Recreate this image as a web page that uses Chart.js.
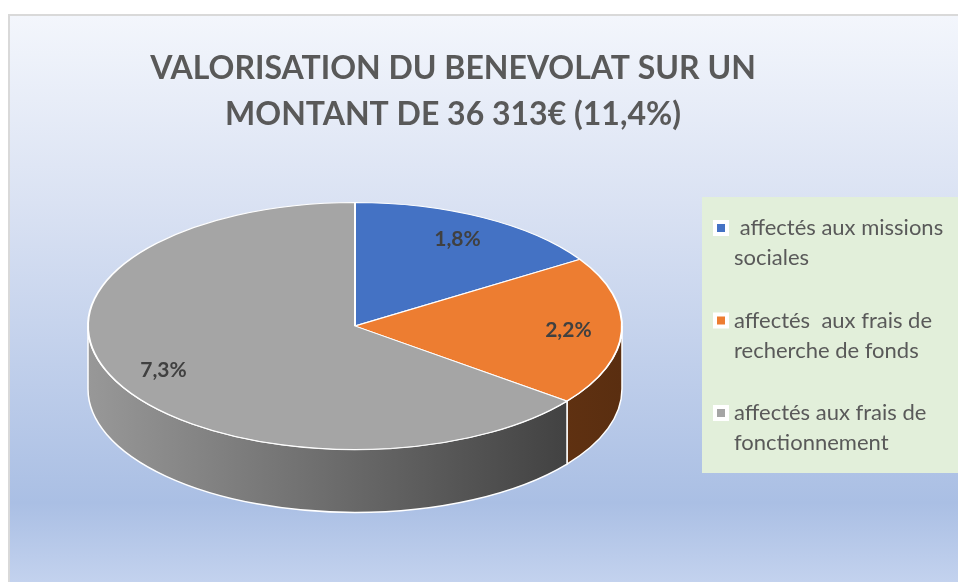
<!DOCTYPE html>
<html lang="fr">
<head>
<meta charset="utf-8">
<title>Valorisation du bénévolat</title>
<script src="https://cdn.jsdelivr.net/npm/chart.js@4.4.1/dist/chart.umd.min.js"></script>
<style>
  html, body { margin: 0; padding: 0; background: #fff; }
  #wrap { width: 958px; height: 582px; }
</style>
</head>
<body>
<div id="wrap"><canvas id="myChart"></canvas></div>
<script>
// values
var titleLines = ['VALORISATION DU BENEVOLAT SUR UN', 'MONTANT DE 36 313€ (11,4%)'];
var categories = [
  [' affectés aux missions', 'sociales'],
  ['affectés  aux frais de', 'recherche de fonds'],
  ['affectés aux frais de', 'fonctionnement']
];
var values = [1.8, 2.2, 7.3];
var sliceColors = ['#4472C4', '#ED7D31', '#A5A5A5'];
// side walls: left / right end of the shading
var sideColors = [['#3a62a8', '#22407a'], ['#8c4a1c', '#5a2e10'], ['#989898', '#383838']];

function pct(v) { return v.toFixed(1).replace('.', ',') + '%'; }

// background panel with its gradient
var panel = {
  id: 'panel',
  beforeDraw: function(chart) {
    var ctx = chart.ctx, w = chart.width, h = chart.height;
    ctx.save();
    ctx.fillStyle = '#fff';
    ctx.fillRect(0, 0, w, h);
    ctx.fillStyle = '#d9d9d9';
    ctx.fillRect(8, 14, w - 8, h - 14);
    var g = ctx.createLinearGradient(0, 16, 0, h);
    g.addColorStop(0, '#f3f6fc');
    g.addColorStop(0.33, '#dae2f3');
    g.addColorStop(0.86, '#aabfe4');
    g.addColorStop(1, '#c3d2ee');
    ctx.fillStyle = g;
    ctx.fillRect(10, 16, w - 10, h - 16);
    ctx.restore();
  }
};

// flattens the pie into an ellipse and adds the visible side walls
var pie3d = {
  id: 'pie3d',
  beforeDatasetsDraw: function(chart, args, o) {
    var ctx = chart.ctx;
    var arcs = chart.getDatasetMeta(0).data;
    var a = arcs[0].outerRadius, b = a * o.tilt;
    var cx = o.x, cy = o.y;
    ctx.save();
    arcs.forEach(function(arc, i) {
      var lo = Math.max(arc.startAngle, 0), hi = Math.min(arc.endAngle, Math.PI);
      if (hi <= lo) return;
      var g = ctx.createLinearGradient(cx - a, 0, cx + a, 0);
      g.addColorStop(0, sideColors[i][0]);
      g.addColorStop(1, sideColors[i][1]);
      ctx.beginPath();
      ctx.ellipse(cx, cy, a, b, 0, lo, hi);
      ctx.ellipse(cx, cy + o.depth, a, b, 0, hi, lo, true);
      ctx.closePath();
      ctx.fillStyle = g;
      ctx.fill();
      ctx.lineWidth = 1.5;
      ctx.strokeStyle = '#fff';
      ctx.stroke();
    });
    ctx.restore();
    ctx.save();
    ctx.translate(cx, cy);
    ctx.scale(1, o.tilt);
    ctx.translate(-arcs[0].x, -arcs[0].y);
  },
  afterDatasetsDraw: function(chart, args, o) {
    var ctx = chart.ctx;
    ctx.restore();
    var arcs = chart.getDatasetMeta(0).data;
    var a = arcs[0].outerRadius, b = a * o.tilt;
    ctx.save();
    ctx.font = 'bold 21px Lato';
    ctx.fillStyle = '#404040';
    ctx.textAlign = 'center';
    ctx.textBaseline = 'middle';
    arcs.forEach(function(arc, i) {
      var mid = (arc.startAngle + arc.endAngle) / 2;
      ctx.fillText(pct(values[i]), o.x + a * o.labelAt * Math.cos(mid), o.y + b * o.labelAt * Math.sin(mid));
    });
    ctx.restore();
  }
};

// legend box on the right, with wrapped labels
var sideLegend = {
  id: 'sideLegend',
  afterDraw: function(chart, args, o) {
    var ctx = chart.ctx;
    ctx.save();
    ctx.fillStyle = '#e2efda';
    ctx.fillRect(o.left, o.top, chart.width - o.left, o.height);
    ctx.font = '22px Lato';
    ctx.textBaseline = 'middle';
    chart.data.labels.forEach(function(lines, i) {
      var y = o.top + o.first + i * o.step;
      ctx.fillStyle = '#fff';
      ctx.fillRect(o.left + 11, y - 8, 16, 16);
      ctx.fillStyle = sliceColors[i];
      ctx.fillRect(o.left + 15, y - 4, 8, 8);
      ctx.fillStyle = '#595959';
      lines.forEach(function(t, j) {
        ctx.fillText(t, o.left + 32, y + j * o.lineGap);
      });
    });
    ctx.restore();
  }
};

var ctx = document.getElementById('myChart').getContext('2d');
var chart = new Chart(ctx, {
  type: 'pie',
  data: {
    labels: categories,
    datasets: [{
      data: values,
      backgroundColor: sliceColors,
      borderColor: '#fff',
      borderWidth: 2,
      radius: 267,
      hoverOffset: 0,
      clip: false
    }]
  },
  options: {
    responsive: true,
    maintainAspectRatio: false,
    animation: false,
    layout: { padding: { left: 0, right: 52, top: 0, bottom: 0 } },
    plugins: {
      legend: { display: false },
      tooltip: { enabled: false },
      title: {
        display: true,
        text: titleLines,
        color: '#595959',
        font: { family: 'Lato', size: 32, weight: 'bold', lineHeight: 1.44 },
        padding: { top: 46, bottom: 0 }
      },
      pie3d: { x: 355, y: 326, tilt: 0.4625, depth: 63, labelAt: 0.8 },
      sideLegend: { left: 702, top: 197, height: 276, first: 31, step: 92.5, lineGap: 30 }
    }
  },
  plugins: [panel, pie3d, sideLegend]
});
</script>
</body>
</html>
